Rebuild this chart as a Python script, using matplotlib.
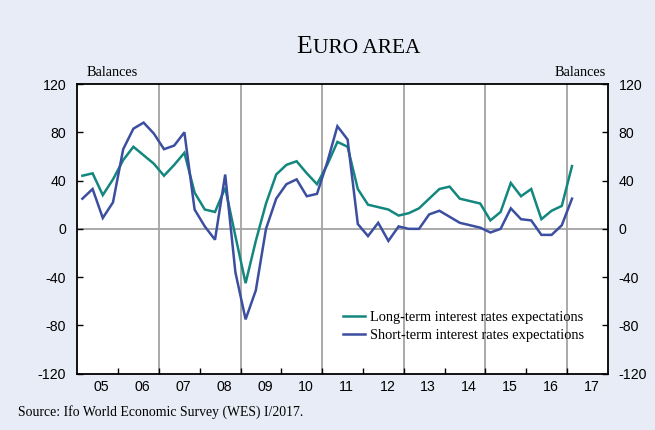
import matplotlib
matplotlib.use("Agg")
import matplotlib.pyplot as plt
from matplotlib.lines import Line2D
import numpy as np

# Quarterly data, 2005Q1 .. 2017Q1
start_year = 2005
long_term = [44, 46, 28, 41, 57, 68, 61, 54, 44, 53, 63, 30, 16, 14, 34, -6,
             -45, -10, 21, 45, 53, 56, 46, 37, 53, 72, 68, 33, 20, 18, 16, 11,
             13, 17, 25, 33, 35, 25, 23, 21, 7, 14, 38, 27, 33, 8, 15, 19, 52]
short_term = [25, 33, 9, 22, 66, 83, 88, 79, 66, 69, 80, 16, 2, -9, 45, -36,
              -75, -51, 0, 25, 37, 41, 27, 29, 55, 85, 74, 4, -6, 5, -10, 2,
              0, 0, 12, 15, 10, 5, 3, 1, -3, 0, 17, 8, 7, -5, -5, 3, 25]
series_labels = ["Long-term interest rates expectations",
                 "Short-term interest rates expectations"]
year_labels = ["05", "06", "07", "08", "09", "10", "11", "12", "13", "14", "15", "16", "17"]
y_ticks = [-120, -80, -40, 0, 40, 80, 120]

TEAL = "#13877F"
BLUE = "#3B4EA0"
BG = "#E8ECF7"
GRID = "#A3A3A3"

W, H = 655, 430
fig = plt.figure(figsize=(W / 100, H / 100), dpi=100, facecolor=BG)
ax = fig.add_axes([77.3 / W, 1 - 373.7 / H, (607.7 - 77.3) / W, (373.7 - 84) / H])
ax.set_facecolor("white")

n = len(long_term)
x = start_year + np.arange(n) * 0.25 + 0.125
x0, x1 = start_year, start_year + len(year_labels)
ax.set_xlim(x0, x1)
ax.set_ylim(-120, 120)

# grid lines
for yr in range(x0 + 2, x1, 2):
    ax.axvline(yr, color=GRID, lw=1.3, zorder=1)
ax.axhline(0, color=GRID, lw=1.3, zorder=1)

ax.plot(x, long_term, color=TEAL, lw=1.8, zorder=3, solid_joinstyle="miter")
ax.plot(x, short_term, color=BLUE, lw=1.8, zorder=3, solid_joinstyle="miter")

for s in ax.spines.values():
    s.set_color("black")
    s.set_linewidth(1.3)

sans = ["Liberation Sans", "DejaVu Sans"]
serif = ["Liberation Serif", "DejaVu Serif"]

ax.set_yticks(y_ticks)
ax.set_yticklabels([str(v) for v in y_ticks], family=sans, fontsize=10.2)
ax.tick_params(axis="y", direction="in", length=4.5, width=1, left=True, right=True,
               labelleft=True, labelright=True, pad=8, colors="black")
ax.set_xticks(range(x0 + 1, x1))
ax.set_xticklabels([])
ax.tick_params(axis="x", direction="in", length=4.5, width=1, bottom=True, top=False)
for i, lab in enumerate(year_labels):
    ax.text(x0 + i + 0.6, -125, lab, ha="center", va="top", fontsize=10.2,
            family=sans, clip_on=False)

# Balances labels
fig.text(86.5 / W, 1 - 76.5 / H, "Balances", ha="left", va="baseline",
         family=serif, fontsize=10.3)
fig.text(606 / W, 1 - 76.5 / H, "Balances", ha="right", va="baseline",
         family=serif, fontsize=10.3)

# Title with small caps style
t1 = fig.text(296.5 / W, 1 - 53.3 / H, "E", ha="left", va="baseline",
              family=serif, fontsize=18.5)
fig.canvas.draw()
bb = t1.get_window_extent()
fig.text((bb.x1 + 0.3) / W, 1 - 53.3 / H, "URO AREA", ha="left", va="baseline",
         family=serif, fontsize=15.4)

# Source
fig.text(18.5 / W, 1 - 416 / H, "Source: Ifo World Economic Survey (WES) I/2017.",
         ha="left", va="baseline", family=serif, fontsize=9.9)

handles = [Line2D([], [], color=TEAL, lw=1.8), Line2D([], [], color=BLUE, lw=1.8)]
leg = ax.legend(handles, series_labels, loc="upper left",
                bbox_to_anchor=(343 / W, 1 - 311 / H), bbox_transform=fig.transFigure,
                frameon=False, prop={"family": serif, "size": 10.35},
                handlelength=1.5, handletextpad=0.4, labelspacing=0.33,
                borderpad=0, borderaxespad=0)

fig.savefig("out.png", dpi=100, facecolor=BG)
